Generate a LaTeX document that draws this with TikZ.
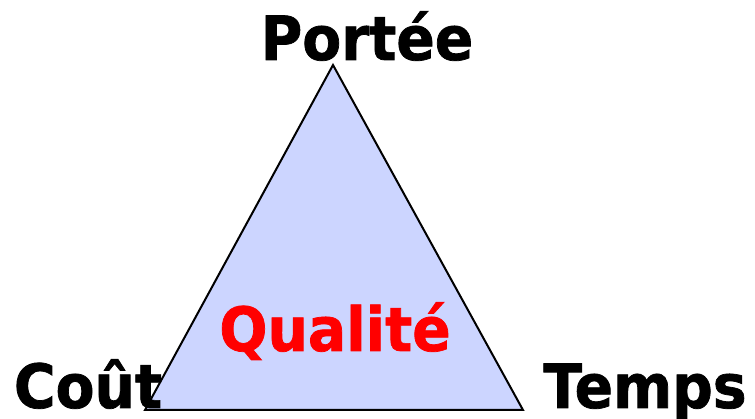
\documentclass[tikz,border=0pt]{standalone}
\usepackage{fontspec}
\usepackage{xcolor}
\usepackage{tikz}
\newfontfamily\labelfont[FakeStretch=0.93,FakeBold=1.2]{DejaVu Sans Bold}
\definecolor{triblue}{RGB}{204,213,255}

\begin{document}
\begin{tikzpicture}[
    x=1pt, y=-1pt,
    label/.style={inner sep=0pt, anchor=base, font=\labelfont\fontsize{61}{61}\selectfont},
    triangle/.style={draw, line width=2pt, line join=miter, fill=triblue}
]
\useasboundingbox (0,0) rectangle (755,419);
\coordinate (top) at (333,65);
\coordinate (left) at (145,410);
\coordinate (right) at (523,410);
\draw[triangle] (top) -- (left) -- (right) -- cycle;
\node[label] (scope) at (367,60) {Portée};
\node[label] (cost) at (88,408) {Coût};
\node[label] (time) at (645,408) {Temps};
\node[label, text=red] (quality) at (335,351) {Qualité};
\end{tikzpicture}
\end{document}
